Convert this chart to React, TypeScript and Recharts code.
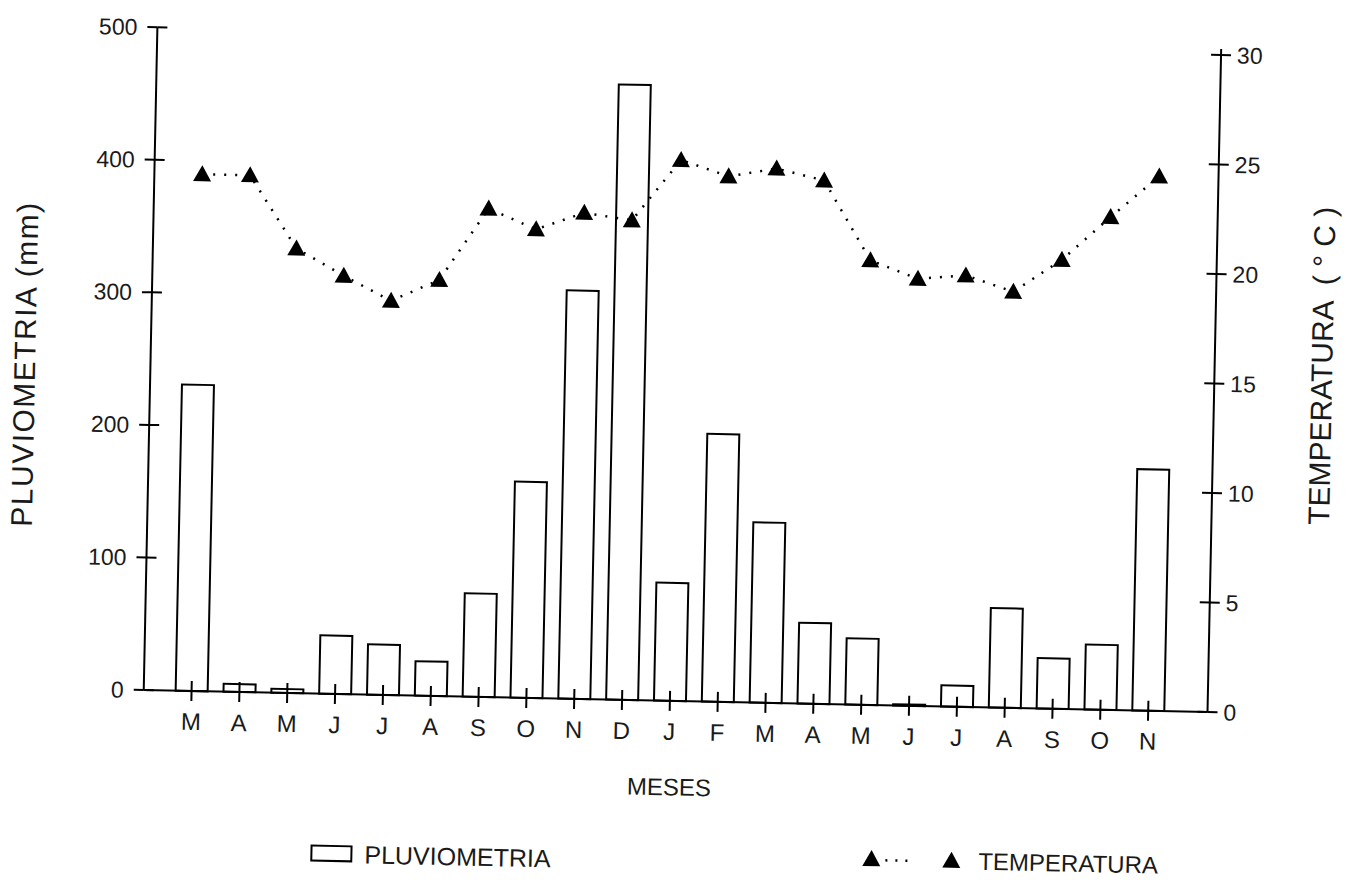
import React from 'react';
import { ComposedChart, Bar, Line, XAxis, YAxis } from 'recharts';

const MONTHS = ['M', 'A', 'M', 'J', 'J', 'A', 'S', 'O', 'N', 'D', 'J', 'F', 'M', 'A', 'M', 'J', 'J', 'A', 'S', 'O', 'N'];
const RAIN = [231, 6, 3, 44, 38, 26, 78, 163, 308, 464, 89, 202, 136, 61, 50, 1, 16, 75, 38, 49, 182];
const TEMP = [23.6, 23.6, 20.3, 19.1, 18.0, 19.0, 22.3, 21.4, 22.2, 21.9, 24.7, 24.0, 24.4, 23.9, 20.3, 19.5, 19.7, 19.0, 20.5, 22.5, 24.4];
const MONTH_POS = MONTHS.map((_, i) => i + 1);
const RAIN_TICKS = [0, 100, 200, 300, 400, 500];
const TEMP_TICKS = [0, 5, 10, 15, 20, 25, 30];

const data = MONTHS.map((m, i) => ({ pos: MONTH_POS[i], month: m, rain: RAIN[i], temp: TEMP[i] }));

const FONT = '"Liberation Sans", Arial, Helvetica, sans-serif';
const INK = '#1a1a1a';
const TICK_SIZE = 10;
const X_MARGIN = 12;
const YL_MARGIN = 10;
const YR_MARGIN = 6;

const Triangle = (props: any) => {
  const { cx, cy, index } = props;
  if (cx == null || cy == null) return <g key={`t-${index}`} />;
  return (
    <polygon
      key={`t-${index}`}
      points={`${cx},${cy - 9} ${cx + 9},${cy + 7} ${cx - 9},${cy + 7}`}
      fill="#000"
    />
  );
};

const XTick = (props: any) => {
  const { x, y, payload } = props;
  const axisY = y - TICK_SIZE - X_MARGIN;
  return (
    <g>
      <line x1={x} x2={x} y1={axisY} y2={axisY - 10} stroke="#000" strokeWidth={2} />
      <text x={x} y={y} dy="0.71em" textAnchor="middle" fontSize={24} fill={INK} fontFamily={FONT}>
        {MONTHS[payload.value - 1]}
      </text>
    </g>
  );
};

const LeftTick = (props: any) => {
  const { x, y, payload } = props;
  const axisX = x + TICK_SIZE + YL_MARGIN;
  return (
    <g>
      <line x1={axisX} x2={axisX + 10} y1={y} y2={y} stroke="#000" strokeWidth={2} />
      <text x={x} y={y} dy="0.355em" textAnchor="end" fontSize={23} fill={INK} fontFamily={FONT}>
        {payload.value}
      </text>
    </g>
  );
};

const RightTick = (props: any) => {
  const { x, y, payload } = props;
  const axisX = x - TICK_SIZE - YR_MARGIN;
  return (
    <g>
      <line x1={axisX - 10} x2={axisX} y1={y} y2={y} stroke="#000" strokeWidth={2} />
      <text x={x} y={y} dy="0.355em" textAnchor="start" fontSize={23} fill={INK} fontFamily={FONT}>
        {payload.value}
      </text>
    </g>
  );
};

const LeftTitle = (props: any) => {
  const vb = props.viewBox || { x: 0, y: 0, width: 0, height: 0 };
  const x = vb.x + 18;
  const y = vb.y + vb.height / 2 + 8;
  return (
    <text
      x={x}
      y={y}
      dy="0.355em"
      transform={`rotate(-90, ${x}, ${y})`}
      textAnchor="middle"
      fontSize={30}
      letterSpacing={1.5}
      fill={INK}
      fontFamily={FONT}
    >
      PLUVIOMETRIA (mm)
    </text>
  );
};

const RightTitle = (props: any) => {
  const vb = props.viewBox || { x: 0, y: 0, width: 0, height: 0 };
  const x = vb.x + 107;
  const y = vb.y + vb.height / 2 - 17;
  return (
    <text
      x={x}
      y={y}
      dy="0.355em"
      transform={`rotate(-90, ${x}, ${y})`}
      textAnchor="middle"
      fontSize={30}
      fill={INK}
      fontFamily={FONT}
      style={{ whiteSpace: 'pre' }}
      xmlSpace="preserve"
    >
      {'TEMPERATURA  ( \u00B0 C )'}
    </text>
  );
};

const XTitle = (props: any) => {
  const vb = props.viewBox || { x: 0, y: 0, width: 0, height: 0 };
  const x = vb.x + vb.width / 2 - 5;
  const y = vb.y + 86;
  return (
    <text x={x} y={y} dy="0.355em" textAnchor="middle" fontSize={24} fill={INK} fontFamily={FONT}>
      MESES
    </text>
  );
};

export default function App() {
  return (
    <div
      style={{
        position: 'absolute',
        left: 0,
        top: 0,
        width: 1356,
        height: 880,
        background: '#fff',
        transform: 'rotate(1.18deg)',
        transformOrigin: '678px 440px',
      }}
    >
      <ComposedChart
        width={1356}
        height={880}
        data={data}
        margin={{ top: 38, right: 5, bottom: 0, left: 5 }}
      >
        <XAxis
          xAxisId="x"
          type="number"
          dataKey="pos"
          domain={[0, 22.24]}
          ticks={MONTH_POS}
          interval={0}
          height={179}
          tickSize={TICK_SIZE}
          tickMargin={X_MARGIN}
          tick={<XTick />}
          axisLine={{ stroke: '#000', strokeWidth: 2 }}
          tickLine={{ stroke: '#000', strokeWidth: 2 }}
          label={<XTitle />}
        />
        <YAxis
          yAxisId="left"
          orientation="left"
          domain={[0, 500]}
          ticks={RAIN_TICKS}
          width={144}
          tickSize={TICK_SIZE}
          tickMargin={YL_MARGIN}
          tick={<LeftTick />}
          axisLine={{ stroke: '#000', strokeWidth: 2 }}
          tickLine={{ stroke: '#000', strokeWidth: 2 }}
          label={<LeftTitle />}
        />
        <YAxis
          yAxisId="right"
          orientation="right"
          domain={[0, 30.27]}
          ticks={TEMP_TICKS}
          width={138}
          tickSize={TICK_SIZE}
          tickMargin={YR_MARGIN}
          tick={<RightTick />}
          axisLine={{ stroke: '#000', strokeWidth: 2 }}
          tickLine={{ stroke: '#000', strokeWidth: 2 }}
          label={<RightTitle />}
        />
        <Bar
          xAxisId="x"
          yAxisId="left"
          dataKey="rain"
          barSize={32}
          fill="none"
          stroke="#000"
          strokeWidth={2}
          isAnimationActive={false}
        />
        <Line
          xAxisId="x"
          yAxisId="right"
          type="linear"
          dataKey="temp"
          stroke="#000"
          strokeWidth={2.5}
          strokeDasharray="2 9"
          dot={Triangle}
          activeDot={false}
          isAnimationActive={false}
        />
      </ComposedChart>
      <svg
        width={1356}
        height={880}
        style={{ position: 'absolute', left: 0, top: 0, pointerEvents: 'none' }}
      >
        <rect x={320} y={853} width={40} height={15} fill="none" stroke="#000" strokeWidth={2} />
        <text x={373} y={861} dy="0.355em" fontSize={25} fill={INK} fontFamily={FONT}>
          PLUVIOMETRIA
        </text>
        <polygon points="880,846 889,862 871,862" fill="#000" />
        <line x1={894} x2={916} y1={856} y2={856} stroke="#000" strokeWidth={2.5} strokeDasharray="2 8" />
        <polygon points="960,846 969,862 951,862" fill="#000" />
        <text x={987} y={855} dy="0.355em" fontSize={24} fill={INK} fontFamily={FONT}>
          TEMPERATURA
        </text>
      </svg>
    </div>
  );
}
